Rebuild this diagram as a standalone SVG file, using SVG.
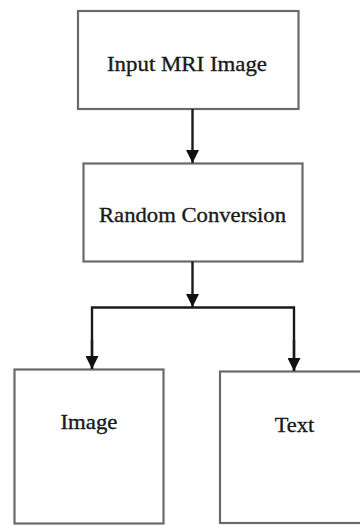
<svg xmlns="http://www.w3.org/2000/svg" width="360" height="525" viewBox="0 0 360 525">
  <style>
    .box { fill: #ffffff; stroke: #6a6a6a; stroke-width: 2.2; }
    .label { font-family: 'Liberation Serif', 'Times New Roman', 'DejaVu Serif', serif; font-size: 21.5px; fill: #1a1a1a; stroke: #1a1a1a; stroke-width: 0.35; text-anchor: middle; }
    .wire { fill: none; stroke: #1a1a1a; stroke-width: 2.4; }
  </style>
  <defs>
    <marker id="head" markerUnits="userSpaceOnUse" markerWidth="13" markerHeight="13" viewBox="0 0 13 13" refX="13" refY="6.5" orient="auto">
      <path d="M0,0 L13,6.5 L0,13 Z" fill="#111111"/>
    </marker>
  </defs>

  <rect width="360" height="525" fill="#ffffff"/>

  <g id="input-mri-image">
    <rect class="box" x="78" y="11" width="220.5" height="98"/>
    <text class="label" x="187" y="71" textLength="160" lengthAdjust="spacingAndGlyphs">Input MRI Image</text>
  </g>

  <g id="random-conversion">
    <rect class="box" x="83.5" y="163.5" width="219" height="98"/>
    <text class="label" x="192.5" y="221.5" textLength="187" lengthAdjust="spacingAndGlyphs">Random Conversion</text>
  </g>

  <g id="image">
    <rect class="box" x="14.5" y="369.5" width="149" height="154"/>
    <text class="label" x="89" y="428.5" textLength="57" lengthAdjust="spacingAndGlyphs">Image</text>
  </g>

  <g id="text">
    <rect class="box" x="220" y="371.5" width="150" height="151.5"/>
    <text class="label" x="294.5" y="431.5" textLength="39.5" lengthAdjust="spacingAndGlyphs">Text</text>
  </g>

  <g id="connectors">
    <line class="wire" x1="192.5" y1="109" x2="192.5" y2="163" marker-end="url(#head)"/>
    <line class="wire" x1="192.5" y1="261.5" x2="192.5" y2="307" marker-end="url(#head)"/>
    <polyline class="wire" points="92,369 92,307.5 294,307.5 294,371"/>
    <line class="wire" x1="92" y1="340" x2="92" y2="369" marker-end="url(#head)"/>
    <line class="wire" x1="294" y1="340" x2="294" y2="371" marker-end="url(#head)"/>
  </g>
</svg>
